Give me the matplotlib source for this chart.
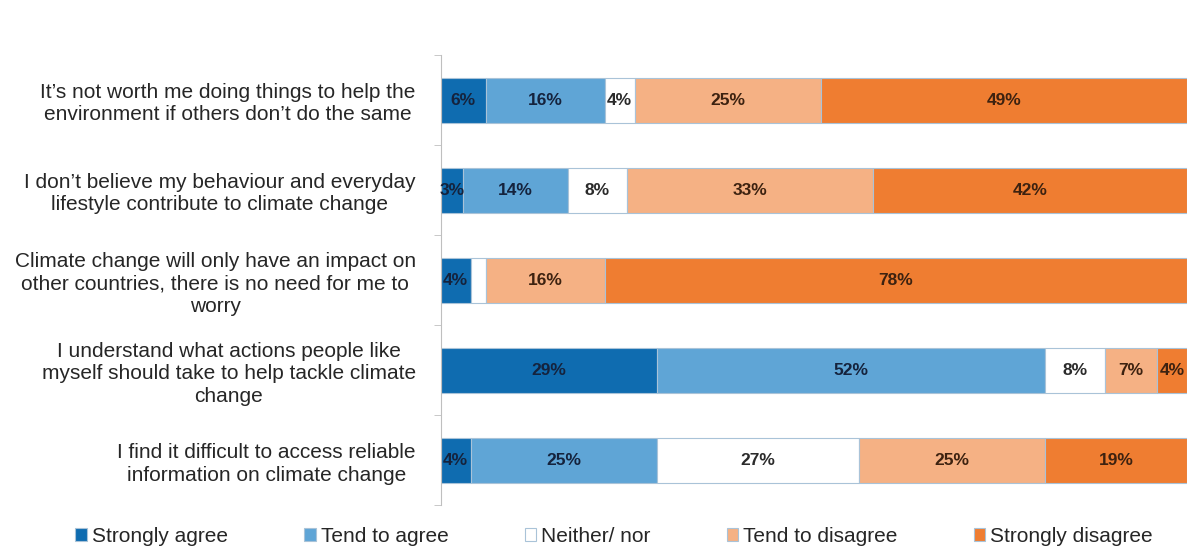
import numpy as np
import matplotlib.pyplot as plt
from matplotlib.ticker import FixedLocator

plt.rcParams['font.family'] = ['Liberation Sans', 'DejaVu Sans']

statements = [
    "It\u2019s not worth me doing things to help the\nenvironment if others don\u2019t do the same",
    "I don\u2019t believe my behaviour and everyday\nlifestyle contribute to climate change",
    "Climate change will only have an impact on\nother countries, there is no need for me to\nworry",
    "I understand what actions people like\nmyself should take to help tackle climate\nchange",
    "I find it difficult to access reliable\ninformation on climate change",
]
responses = ["Strongly agree", "Tend to agree", "Neither/ nor", "Tend to disagree", "Strongly disagree"]

strongly_agree = [6, 3, 4, 29, 4]
tend_agree = [16, 14, 0, 52, 25]
neither = [4, 8, 2, 8, 27]
tend_disagree = [25, 33, 16, 7, 25]
strongly_disagree = [49, 42, 78, 4, 19]

colors = ['#0f6cb0', '#5fa5d6', '#ffffff', '#f5b184', '#ef7d31']
text_colors = ['#15233d', '#15233d', '#2b2b2b', '#3d2210', '#3d2210']

series = [strongly_agree, tend_agree, neither, tend_disagree, strongly_disagree]

fig = plt.figure(figsize=(11.88, 5.51), dpi=100)
ax = fig.add_axes([0.371, 0.083, 0.628, 0.817])

y = np.arange(len(statements))
left = np.zeros(len(statements))
for vals, name, col, tcol in zip(series, responses, colors, text_colors):
    vals = np.array(vals, dtype=float)
    bars = ax.barh(y, vals, left=left, height=0.5, color=col,
                   edgecolor='#a9c3d8', linewidth=0.8, label=name)
    for b, v in zip(bars, vals):
        if v >= 3:
            ax.text(b.get_x() + b.get_width() / 2, b.get_y() + b.get_height() / 2,
                    f"{int(v)}%", ha='center', va='center', fontsize=12.5,
                    fontweight='bold', color=tcol)
    left += vals

ax.set_xlim(0, 100)
ax.set_ylim(len(statements) - 0.5, -0.5)
ax.set_xticks([])
ax.set_yticks(y)
ax.set_yticklabels(statements, fontsize=15, color='#262626',
                   linespacing=1.22, multialignment='center')
ax.tick_params(axis='y', which='major', length=0, pad=18)
ax.yaxis.set_minor_locator(FixedLocator(np.arange(-0.5, len(statements), 1.0)))
ax.tick_params(axis='y', which='minor', length=5, color='#bfbfbf')
for side in ['top', 'right', 'bottom']:
    ax.spines[side].set_visible(False)
ax.spines['left'].set_color('#bfbfbf')

fig.legend(loc='lower center', bbox_to_anchor=(0.517, -0.025), ncol=5,
           frameon=False, fontsize=15, handlelength=0.55, handleheight=0.55,
           handletextpad=0.25, columnspacing=3.65, labelcolor='#262626')

fig.savefig('out.png', dpi=100)
